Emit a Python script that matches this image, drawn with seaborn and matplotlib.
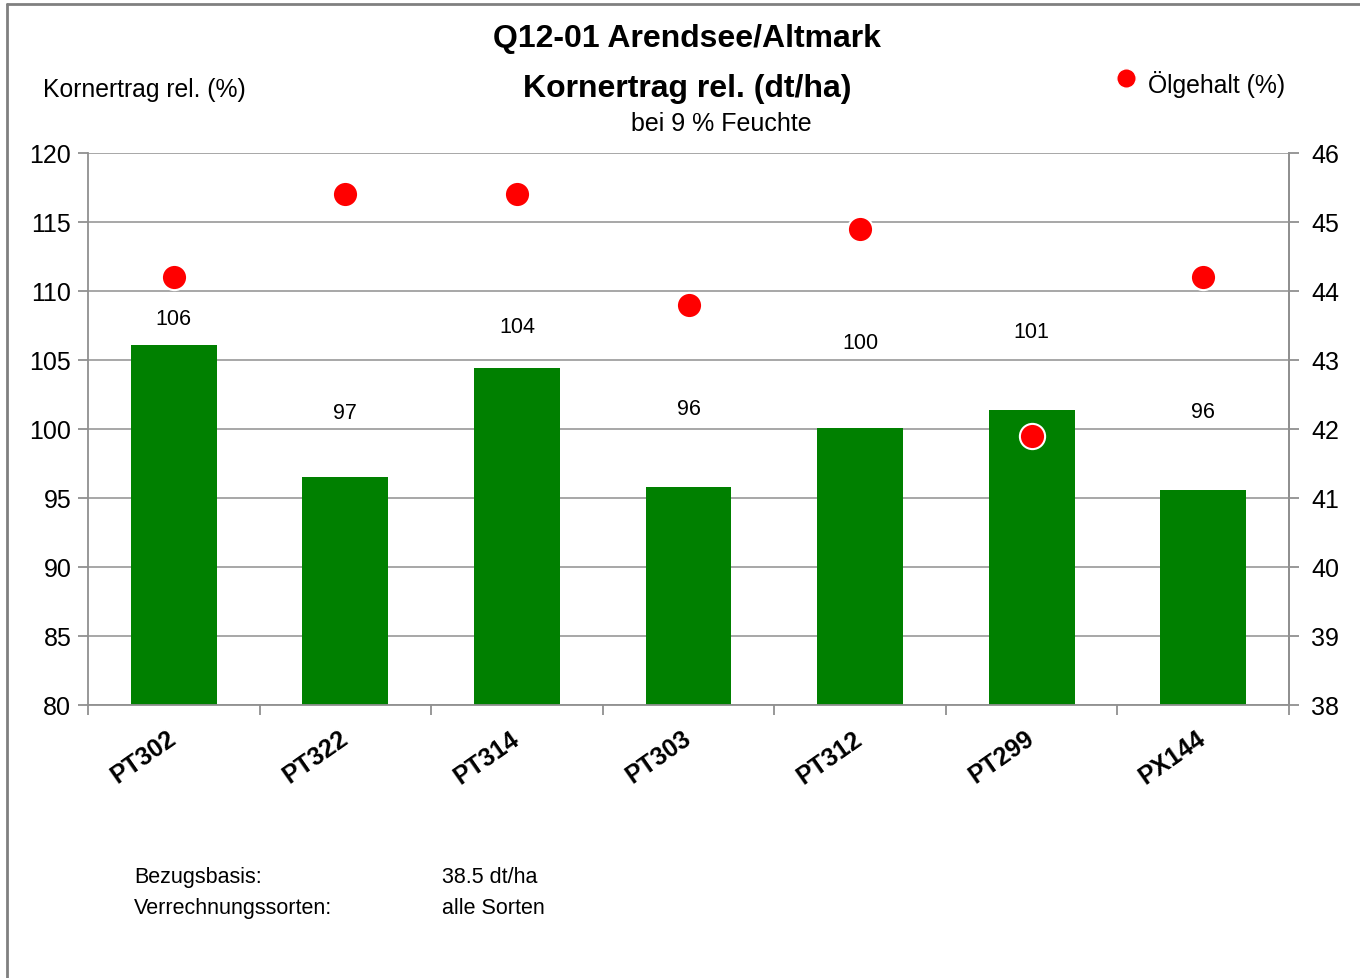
import matplotlib
matplotlib.use("Agg")
import matplotlib.pyplot as plt
import matplotlib.lines as mlines
import seaborn as sns
import pandas as pd
import numpy as np

sorten = ["PT302", "PT322", "PT314", "PT303", "PT312", "PT299", "PX144"]
kornertrag = [106.1, 96.5, 104.4, 95.8, 100.1, 101.4, 95.6]
oelgehalt = [44.2, 45.4, 45.4, 43.8, 44.9, 41.9, 44.2]
label_texte = ["106", "97", "104", "96", "100", "101", "96"]
label_y = [108.2, 101.4, 107.6, 101.7, 106.45, 107.25, 101.45]
links_ticks = [80, 85, 90, 95, 100, 105, 110, 115, 120]
rechts_ticks = [38, 39, 40, 41, 42, 43, 44, 45, 46]

sns.set_theme(style="white")
plt.rcParams['font.family'] = ['Liberation Sans', 'DejaVu Sans']
plt.rcParams['text.color'] = 'black'
plt.rcParams['xtick.color'] = 'black'
plt.rcParams['ytick.color'] = 'black'
plt.rcParams['axes.labelcolor'] = 'black'

df = pd.DataFrame({"Sorte": sorten, "Kornertrag": kornertrag, "Oel": oelgehalt})

fig = plt.figure(figsize=(13.6, 9.79), dpi=100)
ax = fig.add_axes([88/1360, 1-706/979, (1289-88)/1360, (706-154)/979])

grid_c = "#a0a0a0"
spine_c = "#909090"

sns.barplot(data=df, x="Sorte", y="Kornertrag", color="#008000", saturation=1,
            width=0.5, ax=ax, zorder=2, edgecolor="none")
ax.set_ylim(80, 120)
ax.set_xlim(-0.5, len(sorten) - 0.5)
ax.set_yticks(links_ticks)
ax.yaxis.grid(True, color=grid_c, linewidth=1.3, zorder=0)
ax.set_axisbelow(True)
ax.set_xlabel("")
ax.set_ylabel("")
for s in ["left", "bottom", "right"]:
    ax.spines[s].set_color(spine_c)
    ax.spines[s].set_linewidth(1.3)
ax.spines["top"].set_visible(False)
ax.tick_params(axis="y", which="both", length=7, width=1.3, color=spine_c,
               labelcolor="black", labelsize=18, pad=5, direction="out", left=True)
ax.set_xticks(range(len(sorten)))
ax.set_xticklabels(sorten, rotation=35, ha="right", va="center",
                   rotation_mode="anchor", fontsize=18, fontweight="bold")
ax.tick_params(axis="x", which="major", length=0, pad=22, labelcolor="black")
ax.set_xticks(np.arange(-0.5, len(sorten), 1.0), minor=True)
ax.tick_params(axis="x", which="minor", length=7, width=1.3, color=spine_c,
               direction="out", bottom=True)

for i, (t, y) in enumerate(zip(label_texte, label_y)):
    ax.text(i, y - 0.2, t, ha="center", va="center", fontsize=15.5, color="black", zorder=5)

ax2 = ax.twinx()
sns.scatterplot(x=list(range(len(sorten))), y=oelgehalt, ax=ax2, color="#ff0000",
                s=330, edgecolor="white", linewidth=1.5, zorder=6, legend=False)
ax2.set_ylim(38, 46)
ax2.set_yticks(rechts_ticks)
ax2.tick_params(axis="y", length=7, width=1.3, color=spine_c, labelsize=18,
                labelcolor="black", pad=9, direction="out", right=True)
for s in ["left", "bottom", "top"]:
    ax2.spines[s].set_visible(False)
ax2.spines["right"].set_color(spine_c)
ax2.spines["right"].set_linewidth(1.3)
ax2.set_ylabel("")
ax2.grid(False)

# Titles
fig.text(687/1360, 1-39/979, "Q12-01 Arendsee/Altmark", ha="center", va="center",
         fontsize=23, fontweight="bold")
fig.text(687/1360, 1-89/979, "Kornertrag rel. (dt/ha)", ha="center", va="center",
         fontsize=23, fontweight="bold")
fig.text(721/1360, 1-124/979, "bei 9 % Feuchte", ha="center", va="center", fontsize=18)
fig.text(43/1360, 1-90/979, "Kornertrag rel. (%)", ha="left", va="center", fontsize=17.8)

# Legend
fig.lines.append(mlines.Line2D([1126/1360], [1-79/979], marker="o", markersize=14,
                               color="#ff0000", markeredgecolor="white",
                               transform=fig.transFigure))
fig.text(1148/1360, 1-84/979, "Ölgehalt (%)", ha="left", va="center", fontsize=17.8)

# Notes
fig.text(134/1360, 1-878/979, "Bezugsbasis:", ha="left", va="center", fontsize=15.5)
fig.text(134/1360, 1-909/979, "Verrechnungssorten:", ha="left", va="center", fontsize=15.5)
fig.text(442/1360, 1-878/979, "38.5 dt/ha", ha="left", va="center", fontsize=15.5)
fig.text(442/1360, 1-909/979, "alle Sorten", ha="left", va="center", fontsize=15.5)

# Frame
fig.lines.append(mlines.Line2D([7/1360, 7/1360], [0, 1-5/979], color="#808080",
                               linewidth=2, transform=fig.transFigure))
fig.lines.append(mlines.Line2D([7/1360, 1], [1-5/979, 1-5/979], color="#808080",
                               linewidth=2, transform=fig.transFigure))

fig.savefig("out.png", dpi=100)
